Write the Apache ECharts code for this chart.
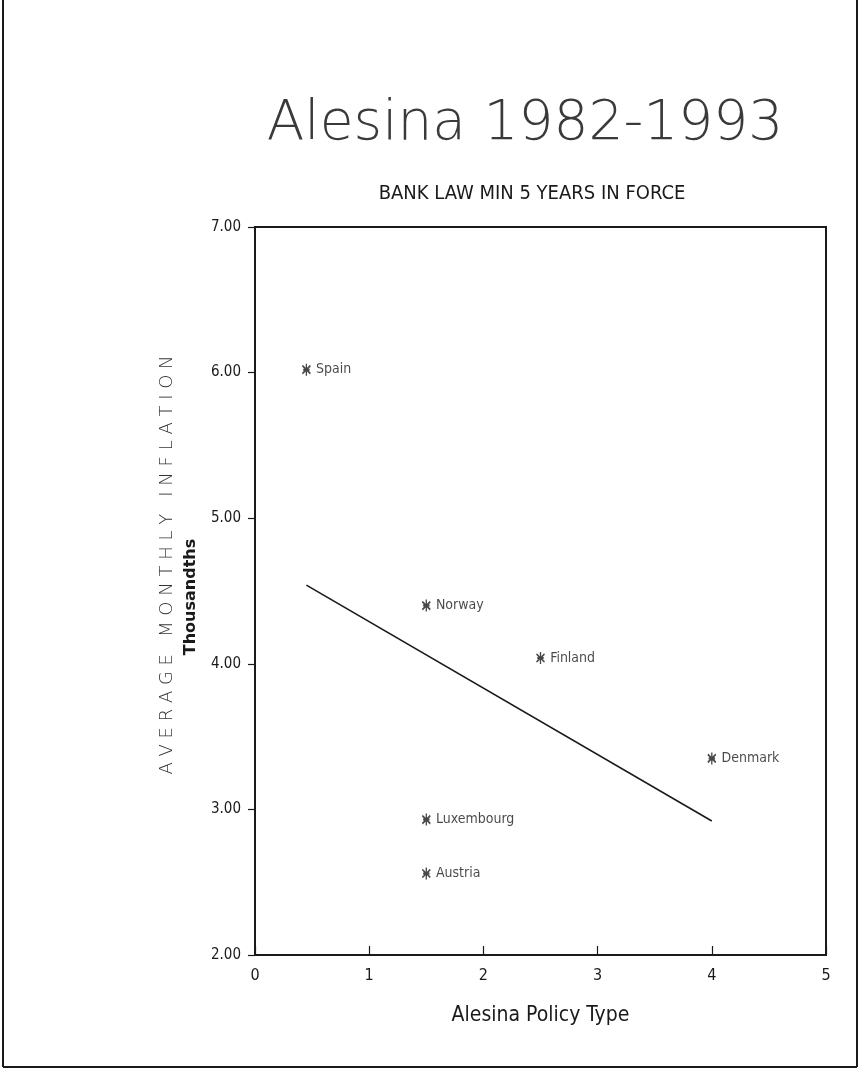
<!DOCTYPE html>
<html>
<head>
<meta charset="utf-8">
<title>Alesina 1982-1993</title>
<script src="https://cdn.jsdelivr.net/npm/echarts@6/dist/echarts.min.js"></script>
<style>
  html, body { margin: 0; padding: 0; background: #fff; }
  #chart { width: 862px; height: 1070px; }
</style>
</head>
<body>
<div id="chart"></div>
<script>
// country points
const countries = ['Spain', 'Norway', 'Finland', 'Denmark', 'Luxembourg', 'Austria'];
const policyType = [0.45, 1.5, 2.5, 4.0, 1.5, 1.5];
const inflation = [6.02, 4.40, 4.04, 3.35, 2.93, 2.56];

// fitted line, end points
const trendX = [0.45, 4.0];
const trendY = [4.54, 2.92];

const xTicks = [0, 1, 2, 3, 4, 5];
const yTicks = [2, 3, 4, 5, 6, 7];

const ink = '#1a1a1a';
const narrow = '"Liberation Sans Narrow", "DejaVu Sans Condensed", sans-serif';

const chart = echarts.init(document.getElementById('chart'));

const asterisk = 'path://M5,0L5,12M0,2L10,10M10,2L0,10M1,6L9,6';

chart.setOption({
  backgroundColor: '#fff',
  animation: false,
  title: [
    {
      text: 'Alesina 1982-1993',
      left: 520, top: 92, textAlign: 'center',
      textStyle: { fontFamily: '"DejaVu Sans", sans-serif', fontWeight: 200, fontSize: 55, color: '#3a3a3a' }
    },
    {
      text: 'BANK LAW MIN 5 YEARS IN FORCE',
      left: 527, top: 179, textAlign: 'center',
      textStyle: { fontFamily: narrow, fontWeight: 'normal', fontSize: 20, color: ink }
    }
  ],
  grid: {
    left: 255, right: 36, top: 227, bottom: 115,
    show: true, borderColor: ink, borderWidth: 2, backgroundColor: 'transparent'
  },
  xAxis: {
    type: 'value', min: xTicks[0], max: xTicks[xTicks.length - 1], interval: 1,
    name: 'Alesina Policy Type', nameLocation: 'middle', nameGap: 50,
    nameTextStyle: { fontFamily: narrow, fontSize: 21, color: ink },
    axisLine: { lineStyle: { color: ink, width: 2 } },
    axisTick: { inside: true, length: 9, lineStyle: { color: ink, width: 1.2 } },
    axisLabel: { fontFamily: narrow, fontSize: 16, color: ink, margin: 13 },
    splitLine: { show: false }
  },
  yAxis: {
    type: 'value', min: yTicks[0], max: yTicks[yTicks.length - 1], interval: 1,
    axisLine: { lineStyle: { color: ink, width: 2 } },
    axisTick: { length: 7, lineStyle: { color: ink, width: 1.2 } },
    axisLabel: {
      fontFamily: narrow, fontSize: 15, color: ink, margin: 14,
      formatter: v => v.toFixed(2)
    },
    splitLine: { show: false }
  },
  graphic: [
    {
      type: 'text', x: 167, y: 565, rotation: Math.PI / 2, origin: [0, 0],
      style: {
        text: 'A V E R A G E   M O N T H L Y   I N F L A T I O N',
        fontFamily: '"DejaVu Sans", sans-serif', fontWeight: 200, fontSize: 18,
        fill: '#333', align: 'center', verticalAlign: 'middle'
      }
    },
    {
      type: 'text', x: 191, y: 597, rotation: Math.PI / 2, origin: [0, 0],
      style: {
        text: 'Thousandths',
        fontFamily: '"DejaVu Sans", sans-serif', fontWeight: 'bold', fontSize: 16,
        fill: ink, align: 'center', verticalAlign: 'middle'
      }
    },
    { type: 'line', shape: { x1: 3, y1: 0, x2: 3, y2: 1067 }, style: { stroke: ink, lineWidth: 2 } },
    { type: 'line', shape: { x1: 857, y1: 0, x2: 857, y2: 1067 }, style: { stroke: ink, lineWidth: 2 } },
    { type: 'line', shape: { x1: 3, y1: 1067, x2: 857, y2: 1067 }, style: { stroke: ink, lineWidth: 2 } }
  ],
  series: [
    {
      type: 'line',
      data: trendX.map((x, i) => [x, trendY[i]]),
      symbol: 'none',
      lineStyle: { color: ink, width: 1.6 },
      z: 2
    },
    {
      type: 'scatter',
      data: countries.map((c, i) => ({ name: c, value: [policyType[i], inflation[i]] })),
      symbol: asterisk,
      symbolSize: [8, 12],
      itemStyle: { color: 'transparent', borderColor: ink, borderWidth: 1.6 },
      label: {
        show: true, position: 'right', distance: 5,
        formatter: p => p.name,
        fontFamily: narrow, fontSize: 14, color: ink
      },
      z: 3
    }
  ]
});
</script>
</body>
</html>
